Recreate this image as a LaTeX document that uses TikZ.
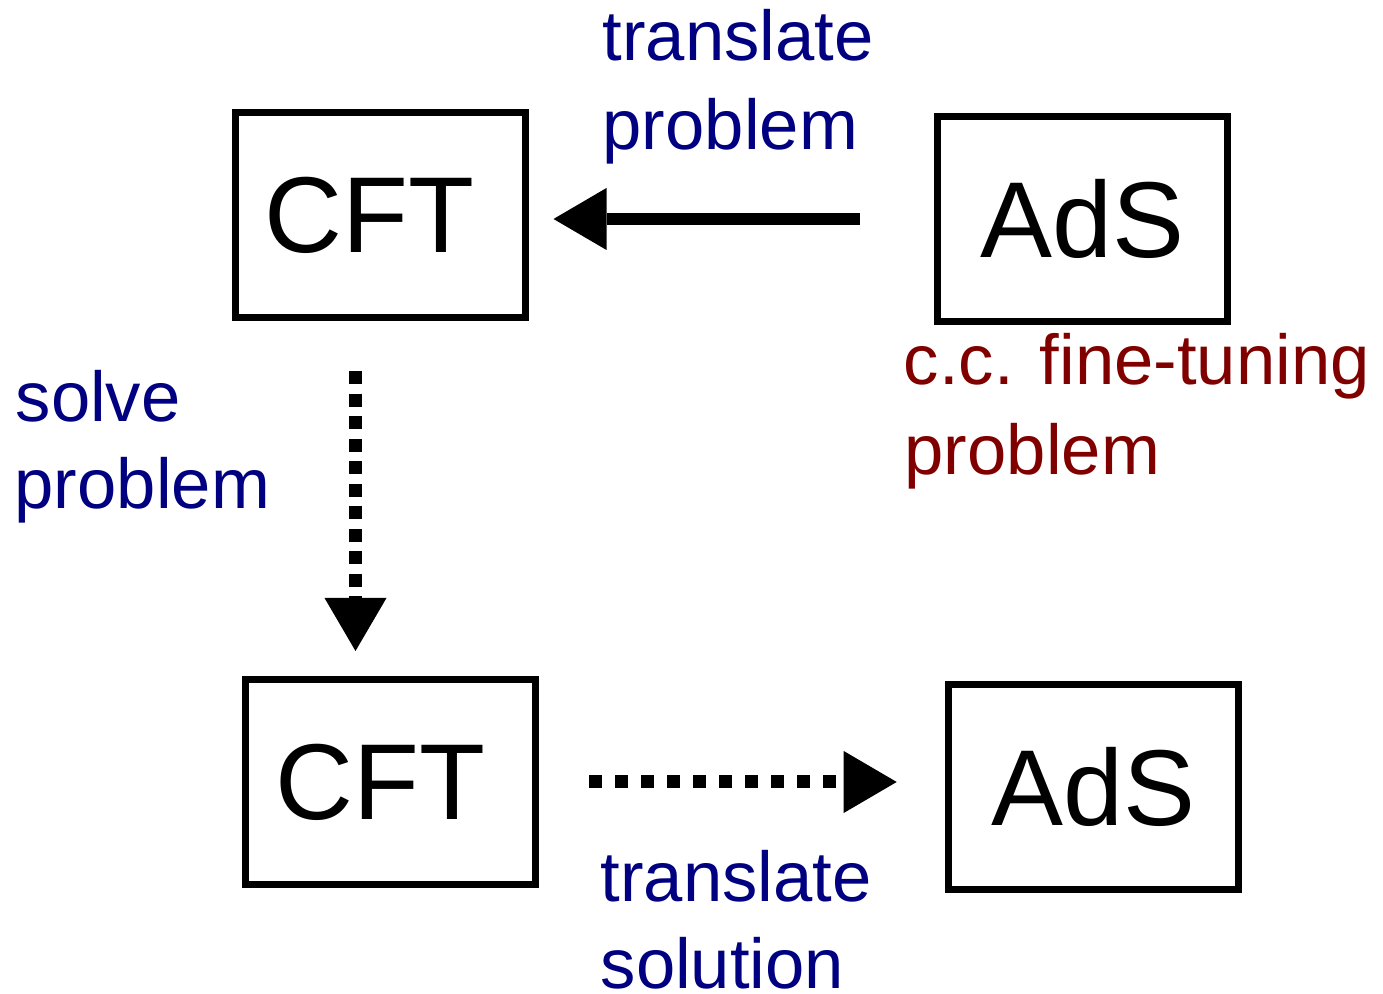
\documentclass[tikz,border=0pt]{standalone}
\usepackage{fontspec}
\setmainfont{Liberation Sans}
\usetikzlibrary{arrows.meta}
\definecolor{navylbl}{RGB}{0,0,128}
\definecolor{maroonlbl}{RGB}{128,0,0}
\begin{document}
\begin{tikzpicture}[
  box/.style={draw=black, line width=0.07cm, minimum width=2.90cm, minimum height=2.05cm, inner sep=0pt, font=\fontsize{30.7pt}{36pt}\selectfont},
  lbl/.style={anchor=base west, inner sep=0pt, font=\fontsize{20.1pt}{24pt}\selectfont},
  bluelbl/.style={lbl, text=navylbl},
  redlbl/.style={lbl, text=maroonlbl},
  headtip/.style={-{Triangle[length=0.53cm,width=0.62cm,line width=0pt]}},
  solidarrow/.style={headtip, line width=0.125cm},
  dotv/.style={headtip, line width=0.13cm, dash pattern=on 0.13cm off 0.095cm},
  doth/.style={headtip, line width=0.13cm, dash pattern=on 0.13cm off 0.13cm},
]
\useasboundingbox (0,0) rectangle (13.83,9.94);

\node[box] (CFT1) at (3.80,7.79) {CFT\kern0.21cm};
\node[box] (AdS1) at (10.82,7.75) {AdS};
\node[box] (CFT2) at (3.907,2.12) {CFT\kern0.21cm};
\node[box] (AdS2) at (10.937,2.07) {AdS};

\draw[solidarrow, shorten <=0.74cm, shorten >=0.25cm] (AdS1.west) -- (AdS1.west -| CFT1.east);
\draw[dotv, shorten <=0.505cm, shorten >=0.25cm] ([xshift=-0.245cm]CFT1.south) -- ([xshift=-0.245cm]CFT1.south |- CFT2.north);
\draw[doth, shorten <=0.50cm, shorten >=0.485cm] (CFT2.east) -- (CFT2.east -| AdS2.west);

\node[bluelbl] (tp1) at (6.02,9.33) {translate};
\node[bluelbl] (tp2) at (6.02,8.44) {problem};
\node[bluelbl] (sp1) at (0.15,5.72) {solve};
\node[bluelbl] (sp2) at (0.14,4.85) {problem};
\node[bluelbl] (ts1) at (6.00,0.92) {translate};
\node[bluelbl] (ts2) at (6.00,0.05) {solution};
\node[redlbl] (cc1) at (9.03,6.09) {c.c. fine-tuning};
\node[redlbl] (cc2) at (9.04,5.19) {problem};
\end{tikzpicture}
\end{document}
